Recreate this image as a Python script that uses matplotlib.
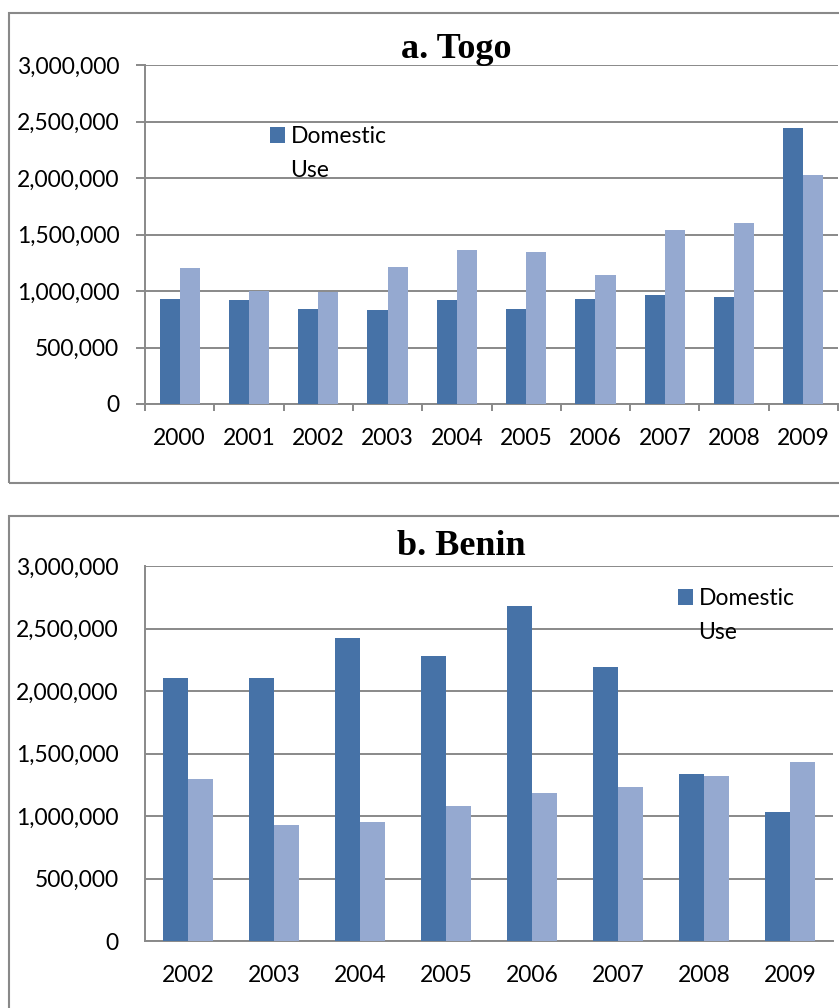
import matplotlib.pyplot as plt
from matplotlib.patches import Rectangle
from matplotlib.ticker import FuncFormatter, FixedLocator

# Data
togo_years = ["2000", "2001", "2002", "2003", "2004", "2005", "2006", "2007", "2008", "2009"]
togo_domestic = [928000, 922000, 839000, 834000, 916000, 845000, 925000, 961000, 949000, 2445000]
togo_other = [1200000, 999000, 987000, 1209000, 1360000, 1342000, 1138000, 1543000, 1599000, 2028000]

benin_years = ["2002", "2003", "2004", "2005", "2006", "2007", "2008", "2009"]
benin_domestic = [2104000, 2104000, 2427000, 2283000, 2677000, 2195000, 1333000, 1032000]
benin_other = [1293000, 928000, 949000, 1077000, 1187000, 1235000, 1317000, 1432000]

yticks = [0, 500000, 1000000, 1500000, 2000000, 2500000, 3000000]

DARK = "#4672A7"
LIGHT = "#95A9D0"
GRAY = "#898989"
W, H = 839, 1008
FS = 16.5

plt.rcParams['font.family'] = ['Lato', 'DejaVu Sans']

fig = plt.figure(figsize=(W / 100, H / 100), dpi=100)


def px(x0, y0, x1, y1):
    # pixel box -> figure fraction [left, bottom, width, height]
    return [x0 / W, 1 - y1 / H, (x1 - x0) / W, (y1 - y0) / H]


def panel(rect, years, dom, oth, title, title_xy, leg_xy, ticks):
    ax = fig.add_axes(rect)
    n = len(years)
    xs = list(range(n))
    bw = 0.29
    ax.bar([x - bw / 2 for x in xs], dom, width=bw, color=DARK, label="Domestic", zorder=3)
    ax.bar([x + bw / 2 for x in xs], oth, width=bw, color=LIGHT, zorder=3)
    ax.set_xlim(-0.5, n - 0.5)
    ax.set_ylim(0, 3000000)
    ax.set_yticks(yticks)
    ax.yaxis.set_major_formatter(FuncFormatter(lambda v, p: f"{int(v):,}"))
    ax.set_xticks(xs)
    ax.set_xticklabels(years)
    ax.grid(axis="y", color=GRAY, linewidth=1.4, zorder=0)
    ax.set_axisbelow(True)
    for s in ["top", "right"]:
        ax.spines[s].set_visible(False)
    for s in ["left", "bottom"]:
        ax.spines[s].set_color(GRAY)
        ax.spines[s].set_linewidth(1.4)
    ax.tick_params(axis="x", length=0, pad=17, labelsize=FS)
    if ticks:
        ax.tick_params(axis="y", length=6.5, width=1.4, color=GRAY, pad=12, labelsize=FS)
        ax.xaxis.set_minor_locator(FixedLocator([x - 0.5 for x in range(n + 1)]))
        ax.tick_params(axis="x", which="minor", length=5, width=1.4, color=GRAY)
    else:
        ax.tick_params(axis="y", length=0, pad=19, labelsize=FS)

    fig.text(title_xy[0] / W, 1 - title_xy[1] / H, title, ha="center", va="baseline",
             fontsize=26, fontweight="bold", family=["Liberation Serif", "DejaVu Serif"])

    blank = Rectangle((0, 0), 1, 1, facecolor="none", edgecolor="none")
    handles = [ax.containers[0], blank]
    ax.legend(handles, ["Domestic", "Use"], loc="upper left",
              bbox_to_anchor=(leg_xy[0] / W, 1 - leg_xy[1] / H), bbox_transform=fig.transFigure,
              frameon=False, fontsize=FS, handlelength=0.65, handleheight=0.65,
              handletextpad=0.25, labelspacing=0.55, borderpad=0, borderaxespad=0)
    return ax


# panel frames
fig.patches.append(Rectangle((9 / W, 1 - 483 / H), 2, (483 - 13) / H, transform=fig.transFigure,
                             fill=False, edgecolor=GRAY, linewidth=1.5))
fig.patches.append(Rectangle((9 / W, 1 - 1050 / H), 2, (1050 - 516) / H, transform=fig.transFigure,
                             fill=False, edgecolor=GRAY, linewidth=1.5))

panel(px(145, 65, 838, 404), togo_years, togo_domestic, togo_other,
      "a. Togo", (456, 58), (270, 126), True)
panel(px(145, 566, 833, 941), benin_years, benin_domestic, benin_other,
      "b. Benin", (461, 555), (678, 588), False)

fig.savefig("out.png", dpi=100)
